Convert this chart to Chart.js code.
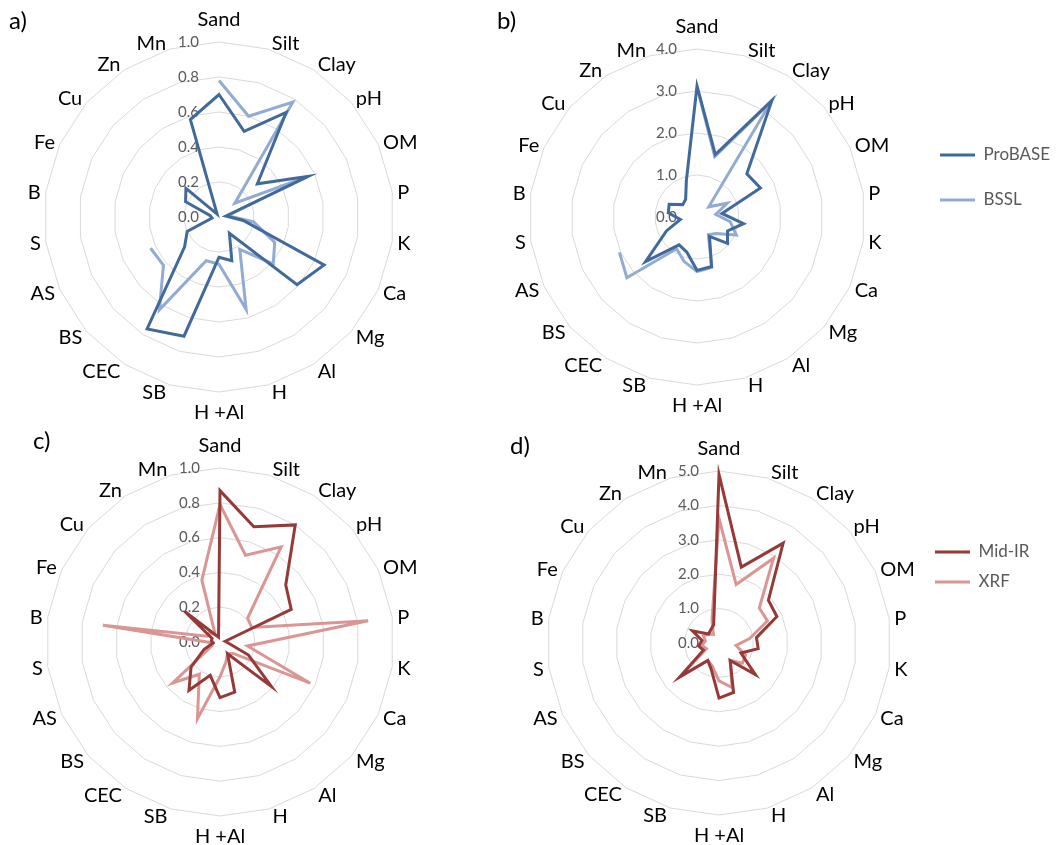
<!DOCTYPE html>
<html><head><meta charset="utf-8">
<script src="https://cdn.jsdelivr.net/npm/chart.js@4.4.1/dist/chart.umd.min.js"></script>
<style>
html,body{margin:0;padding:0;background:#fff;width:1058px;height:845px;overflow:hidden;position:relative}
canvas{position:absolute}
</style></head><body>
<canvas id="ca" width="470" height="425" style="left:0;top:0"></canvas>
<canvas id="cb" width="620" height="425" style="left:470px;top:0"></canvas>
<canvas id="cc" width="470" height="420" style="left:0;top:425px"></canvas>
<canvas id="cd" width="620" height="420" style="left:470px;top:425px"></canvas>
<script>
// ---- data ----
const categories = ['Sand','Silt','Clay','pH','OM','P','K','Ca','Mg','Al','H','H +Al','SB','CEC','BS','AS','S','B','Fe','Cu','Zn','Mn'];

const probaseA = [0.70, 0.51, 0.71, 0.29, 0.56, 0.04, 0.14, 0.66, 0.59, 0.11, 0.26, 0.23, 0.71, 0.76, 0.26, 0.20, 0.04, 0.05, 0.21, 0.25, 0.02, 0.58];
const bsslA    = [0.78, 0.60, 0.78, 0.12, 0.55, 0.05, 0.20, 0.35, 0.41, 0.22, 0.55, 0.27, 0.26, 0.63, 0.42, 0.43, null, null, null, null, null, null];

const probaseB = [3.12, 1.55, 3.30, 1.57, 1.66, 0.60, 1.12, 0.80, 0.96, 0.55, 1.23, 1.27, 0.87, 0.79, 1.62, 0.80, 0.40, 0.69, 0.73, 0.45, 0.50, 0.90];
const bsslB    = [3.10, 1.50, 3.25, 0.37, 0.79, 0.45, 0.80, 1.03, 0.60, 0.50, 1.25, 1.30, 1.10, 0.90, 2.21, 2.03, null, null, null, null, null, null];

const midirC = [0.87, 0.69, 0.80, 0.50, 0.45, 0.03, 0.05, 0.18, 0.39, 0.08, 0.30, 0.32, 0.20, 0.33, 0.22, 0.10, 0.04, 0.05, 0.05, 0.27, 0.05, 0.03];
const xrfC   = [0.79, 0.52, 0.65, 0.21, 0.20, 0.86, 0.16, 0.57, 0.10, 0.08, 0.12, 0.20, 0.46, 0.22, 0.36, 0.05, 0.04, 0.68, 0.08, 0.08, 0.05, 0.37];

const midirD = [4.90, 2.30, 3.45, 1.90, 1.85, 1.10, 1.15, 0.70, 1.40, 0.60, 1.50, 1.60, 0.80, 0.60, 1.50, 0.50, 0.60, 0.50, 0.85, 0.40, 0.45, 0.55];
const xrfD   = [3.62, 1.77, 2.93, 1.55, 1.55, 0.90, 0.50, 0.85, 0.90, 0.60, 1.35, 1.10, 0.70, 0.60, 1.50, 0.40, 0.50, 0.40, 0.50, 0.40, 0.30, 0.72];

const ticksAC = [0, 0.2, 0.4, 0.6, 0.8, 1.0];
const ticksB  = [0, 1, 2, 3, 4];
const ticksD  = [0, 1, 2, 3, 4, 5];

// ---- styling ----
const FONT = 'Lato, "Open Sans", sans-serif';
const BLUE_DARK = '#41699a', BLUE_LIGHT = '#91abd1';
const RED_DARK = '#953a38', RED_LIGHT = '#d99694';

const radarDecor = {
  id: 'radarDecor',
  beforeDatasetsDraw(chart, args, opts) {
    const s = chart.scales.r, ctx = chart.ctx;
    ctx.save();
    ctx.font = '15px ' + FONT; ctx.fillStyle = '#5a5a5a';
    ctx.textAlign = 'right'; ctx.textBaseline = 'middle';
    s.ticks.forEach(t => {
      const d = s.getDistanceFromCenterForValue(t.value);
      ctx.fillText(t.value.toFixed(1), s.xCenter - 20, s.yCenter - d);
    });
    ctx.font = '20px ' + FONT; ctx.fillStyle = '#000'; ctx.textAlign = 'center';
    chart.data.labels.forEach((lab, i) => {
      const th = s.getIndexAngle(i);
      const sn = Math.sin(th), cs = Math.cos(th);
      const p = s.getPointPosition(i, s.drawingArea + 2);
      const w = ctx.measureText(lab).width;
      let x = p.x, y = p.y;
      if (Math.abs(sn) < 0.01) {
        y += cs > 0 ? -20 : 19;
      } else {
        x += Math.sign(sn) * (w / 2 + 3);
        y += -5 * cs + 1;
      }
      ctx.fillText(lab, x, y);
    });
    ctx.font = '24px ' + FONT; ctx.fillStyle = '#000'; ctx.textAlign = 'left';
    ctx.fillText(opts.letter, opts.lx, opts.ly);
    ctx.restore();
  }
};

function legendPadRight(W, lineStart, boxW, fontSize, texts) {
  const m = document.createElement('canvas').getContext('2d');
  m.font = 'normal ' + fontSize + 'px ' + FONT;
  const tw = Math.max(...texts.map(t => m.measureText(t).width));
  return Math.max(0, W - lineStart - (boxW + fontSize / 2 + tw) - 10);
}

function makeRadar(id, cfg) {
  const canvas = document.getElementById(id);
  const legendOn = !!cfg.legend;
  let layoutPad = {left: 0, right: 0, top: 0, bottom: 0};
  if (legendOn) {
    layoutPad = {left: 0, top: 0, bottom: cfg.legend.padBottom,
      right: legendPadRight(canvas.width, cfg.legend.lineStart, 35, 17, cfg.series.map(s => s.name))};
  }
  const tk = cfg.ticks;
  new Chart(canvas, {
    type: 'radar',
    data: {
      labels: categories,
      datasets: cfg.series.map(s => ({
        label: s.name, data: s.data, borderColor: s.color, backgroundColor: s.color,
        borderWidth: 3, pointRadius: 0, pointHoverRadius: 0, fill: false, tension: 0,
        spanGaps: false, clip: false
      }))
    },
    plugins: [radarDecor],
    options: {
      responsive: false, animation: false, events: [],
      layout: {padding: layoutPad},
      scales: {
        r: {
          min: tk[0], max: tk[tk.length - 1],
          ticks: {display: false, stepSize: tk[1] - tk[0]},
          grid: {color: '#d9d9d9', lineWidth: 1, circular: false},
          angleLines: {display: false},
          pointLabels: {display: false},
          afterSetDimensions: (s) => { s.xCenter = cfg.cx; s.yCenter = cfg.cy; s.drawingArea = cfg.R; }
        }
      },
      plugins: {
        tooltip: {enabled: false},
        title: {display: false},
        radarDecor: {letter: cfg.letter, lx: cfg.lx, ly: cfg.ly},
        legend: legendOn ? {
          display: true, position: 'right', align: 'center',
          labels: {usePointStyle: true, pointStyle: 'line', pointStyleWidth: 35,
            font: {size: 17, family: FONT}, color: '#595959', padding: cfg.legend.padding}
        } : {display: false}
      }
    }
  });
}

makeRadar('ca', {cx: 219, cy: 217, R: 175, ticks: ticksAC, letter: 'a)', lx: 9, ly: 21,
  series: [{name: 'ProBASE', data: probaseA, color: BLUE_DARK}, {name: 'BSSL', data: bsslA, color: BLUE_LIGHT}]});
makeRadar('cb', {cx: 227, cy: 217, R: 168, ticks: ticksB, letter: 'b)', lx: 27, ly: 21,
  legend: {lineStart: 470, padBottom: 70, padding: 28},
  series: [{name: 'ProBASE', data: probaseB, color: BLUE_DARK}, {name: 'BSSL', data: bsslB, color: BLUE_LIGHT}]});
makeRadar('cc', {cx: 220, cy: 217, R: 174, ticks: ticksAC, letter: 'c)', lx: 33, ly: 16,
  series: [{name: 'Mid-IR', data: midirC, color: RED_DARK}, {name: 'XRF', data: xrfC, color: RED_LIGHT}]});
makeRadar('cd', {cx: 249, cy: 218, R: 172, ticks: ticksD, letter: 'd)', lx: 40, ly: 21,
  legend: {lineStart: 465, padBottom: 136, padding: 13},
  series: [{name: 'Mid-IR', data: midirD, color: RED_DARK}, {name: 'XRF', data: xrfD, color: RED_LIGHT}]});
</script>
</body></html>
